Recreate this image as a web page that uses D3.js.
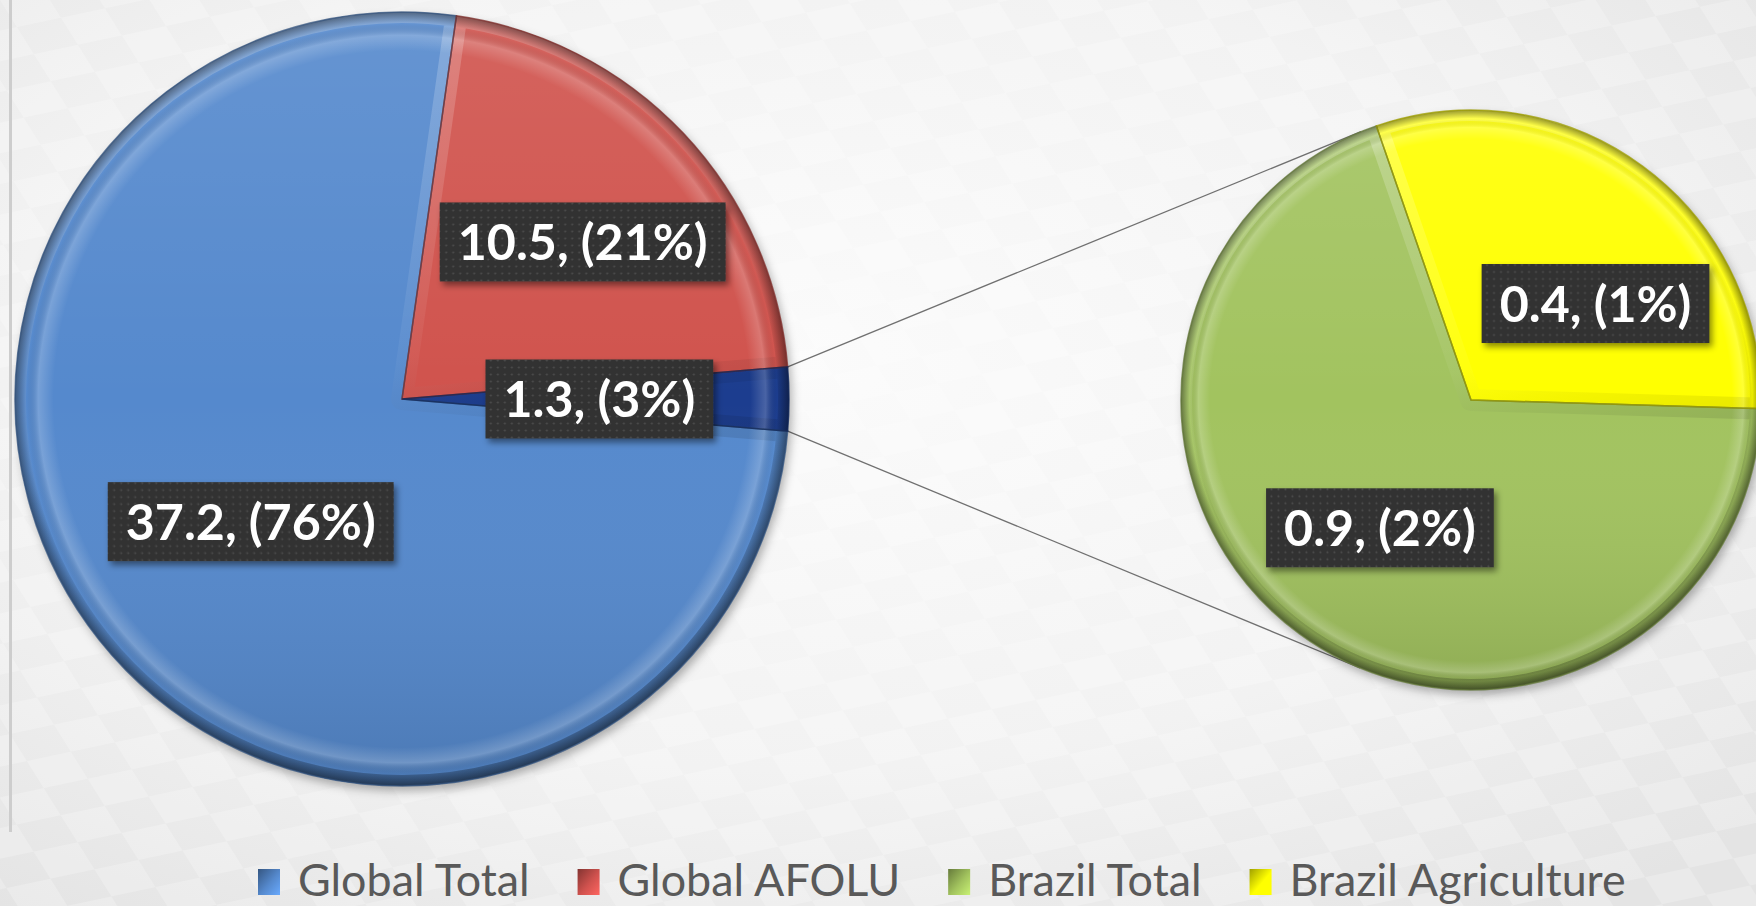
<!DOCTYPE html>
<html><head><meta charset="utf-8">
<script src="https://cdn.jsdelivr.net/npm/d3@7"></script>
<style>
html,body{margin:0;padding:0;background:#f0f0f0;overflow:hidden}
svg{display:block}
</style></head><body>
<svg id="chart" width="1756" height="906"></svg>
<script>
// ---- data ----
const primaryCategories = ["Global Total", "Global AFOLU", "Other"];
const primaryValues = [37.2, 10.5, 1.3];
const secondaryCategories = ["Brazil Total", "Brazil Agriculture"];
const secondaryValues = [0.9, 0.4];
const legendLabels = ["Global Total", "Global AFOLU", "Brazil Total", "Brazil Agriculture"];

// ---- style / layout ----
const W = 1756, H = 906;
const colorScale = d3.scaleOrdinal()
  .domain(["Global Total", "Global AFOLU", "Other", "Brazil Total", "Brazil Agriculture"])
  .range(["#5589cd", "#d0524e", "#1b3d8f", "#a2c35e", "#ffff00"]);
const P1 = {cx: 402, cy: 399, r: 387};
const P2 = {cx: 1471, cy: 400, r: 290};
const labelFont = "Lato, 'Open Sans', sans-serif";

const svg = d3.select("#chart");
const defs = svg.append("defs");

// background
const bg = defs.append("radialGradient").attr("id", "bgGrad").attr("cx", "45%").attr("cy", "40%").attr("r", "75%");
bg.append("stop").attr("offset", "0").attr("stop-color", "#fbfbfb");
bg.append("stop").attr("offset", "0.6").attr("stop-color", "#f2f2f2");
bg.append("stop").attr("offset", "1").attr("stop-color", "#e4e4e4");
svg.append("rect").attr("width", W).attr("height", H).attr("fill", "url(#bgGrad)");
const tex = defs.append("pattern").attr("id", "tex").attr("width", 90).attr("height", 60)
  .attr("patternUnits", "userSpaceOnUse").attr("patternTransform", "rotate(-12) skewX(20)");
tex.append("rect").attr("width", 45).attr("height", 30).attr("fill", "#ffffff").attr("opacity", 0.4);
tex.append("rect").attr("x", 45).attr("y", 30).attr("width", 45).attr("height", 30).attr("fill", "#ffffff").attr("opacity", 0.4);
svg.append("rect").attr("width", W).attr("height", H).attr("fill", "url(#tex)").attr("opacity", 0.55);
svg.append("rect").attr("x", 9).attr("y", 0).attr("width", 3).attr("height", 832).attr("fill", "#cdcdcd");

// filters
const fs = defs.append("filter").attr("id", "pieShadow").attr("x", "-10%").attr("y", "-10%").attr("width", "120%").attr("height", "125%");
fs.append("feDropShadow").attr("dx", 3).attr("dy", 5).attr("stdDeviation", 5).attr("flood-color", "#000").attr("flood-opacity", 0.3);
const fl = defs.append("filter").attr("id", "lblShadow").attr("x", "-10%").attr("y", "-20%").attr("width", "125%").attr("height", "150%");
fl.append("feDropShadow").attr("dx", 3).attr("dy", 4).attr("stdDeviation", 3).attr("flood-color", "#000").attr("flood-opacity", 0.45);

// dotted label pattern
const dots = defs.append("pattern").attr("id", "dots").attr("width", 7).attr("height", 7).attr("patternUnits", "userSpaceOnUse");
dots.append("rect").attr("width", 7).attr("height", 7).attr("fill", "#323232");
dots.append("circle").attr("cx", 3.5).attr("cy", 3.5).attr("r", 1).attr("fill", "#4e4e4e");

// rim (bevel) gradients
function rimGrad(id, r) {
  const g = defs.append("radialGradient").attr("id", id).attr("gradientUnits", "userSpaceOnUse")
    .attr("cx", 0).attr("cy", 0).attr("r", r);
  [[0, "#fff", 0], [0.9, "#fff", 0], [0.94, "#fff", 0.2], [0.97, "#000", 0], [1, "#000", 0.4]]
    .forEach(s => g.append("stop").attr("offset", s[0]).attr("stop-color", s[1]).attr("stop-opacity", s[2]));
  const l = defs.append("linearGradient").attr("id", id + "L").attr("gradientUnits", "userSpaceOnUse")
    .attr("x1", 0).attr("y1", -r).attr("x2", 0).attr("y2", r);
  [[0, "#fff", 0.1], [0.5, "#fff", 0], [1, "#000", 0.12]]
    .forEach(s => l.append("stop").attr("offset", s[0]).attr("stop-color", s[1]).attr("stop-opacity", s[2]));
  const b = defs.append("linearGradient").attr("id", id + "B").attr("gradientUnits", "userSpaceOnUse")
    .attr("x1", -r * 0.3).attr("y1", -r).attr("x2", r * 0.3).attr("y2", r);
  [[0, "#fff", 0.45], [0.45, "#fff", 0.08], [0.55, "#000", 0.08], [1, "#000", 0.45]]
    .forEach(s => b.append("stop").attr("offset", s[0]).attr("stop-color", s[1]).attr("stop-opacity", s[2]));
}
rimGrad("rim1", P1.r);
rimGrad("rim2", P2.r);

const total = d3.sum(primaryValues);
const otherSpan = primaryValues[2] / total * 2 * Math.PI;
const pie1 = d3.pie().sort(null).value(d => d.v)
  .startAngle(Math.PI / 2 + otherSpan / 2).endAngle(Math.PI / 2 + otherSpan / 2 + 2 * Math.PI);
const sec0 = Math.PI / 2 + 0.03;
const pie2 = d3.pie().sort(null).value(d => d.v)
  .startAngle(sec0).endAngle(sec0 + 2 * Math.PI);

const arcs1 = pie1(primaryCategories.map((c, i) => ({c, v: primaryValues[i]})));
const arcs2 = pie2(secondaryCategories.map((c, i) => ({c, v: secondaryValues[i]})));

function pt(P, a, rr) { return [P.cx + rr * Math.sin(a), P.cy - rr * Math.cos(a)]; }

// connector lines (tangent to the secondary pie)
function tangent(p, C, upper) {
  const vx = p[0] - C.cx, vy = p[1] - C.cy, d = Math.hypot(vx, vy);
  const phi = Math.atan2(vy, vx), a = Math.acos(C.r / d);
  const t1 = [C.cx + C.r * Math.cos(phi + a), C.cy + C.r * Math.sin(phi + a)];
  const t2 = [C.cx + C.r * Math.cos(phi - a), C.cy + C.r * Math.sin(phi - a)];
  return upper ? (t1[1] < t2[1] ? t1 : t2) : (t1[1] > t2[1] ? t1 : t2);
}
const otherArc = arcs1[2];
const pu = pt(P1, otherArc.startAngle, P1.r), pl = pt(P1, otherArc.endAngle, P1.r);
[[pu, tangent(pu, P2, true)], [pl, tangent(pl, P2, false)]].forEach(([a, b]) => {
  svg.append("line").attr("x1", a[0]).attr("y1", a[1]).attr("x2", b[0]).attr("y2", b[1])
    .attr("stroke", "#707070").attr("stroke-width", 1.3);
});

let clipN = 0;
function drawPie(P, arcs, rimId) {
  const g = svg.append("g").attr("transform", `translate(${P.cx},${P.cy})`);
  const arc = d3.arc().innerRadius(0).outerRadius(P.r);
  const sg = g.append("g").attr("filter", "url(#pieShadow)");
  sg.selectAll("path.base").data(arcs).join("path").attr("class", "base")
    .attr("d", arc).attr("fill", d => colorScale(d.data.c));
  g.selectAll("path.light").data(arcs).join("path").attr("class", "light")
    .attr("d", arc).attr("fill", `url(#${rimId}L)`);
  // bevel band along every edge of each slice, lit from the top
  arcs.forEach(d => {
    const id = "clip" + (clipN++);
    defs.append("clipPath").attr("id", id).append("path")
      .attr("d", arc(d)).attr("transform", `translate(${P.cx},${P.cy})`);
    svg.append("g").attr("clip-path", `url(#${id})`)
      .append("path").attr("transform", `translate(${P.cx},${P.cy})`)
      .attr("d", arc(d)).attr("fill", "none").attr("stroke", `url(#${rimId}B)`)
      .attr("stroke-width", 22).attr("stroke-linejoin", "round").attr("opacity", 0.55);
  });
  const g2 = svg.append("g").attr("transform", `translate(${P.cx},${P.cy})`);
  g2.selectAll("path.rim").data(arcs).join("path").attr("class", "rim")
    .attr("d", arc).attr("fill", `url(#${rimId})`)
    .attr("stroke", d => d3.color(colorScale(d.data.c)).darker(1.4)).attr("stroke-width", 1.5).attr("stroke-opacity", 0.75);
}
drawPie(P1, arcs1, "rim1");
drawPie(P2, arcs2, "rim2");

// labels
function labelText(v) { return `${v}, (${Math.round(v / total * 100)}%)`; }
const measure = svg.append("text").attr("font-family", labelFont).attr("font-weight", 700).attr("font-size", 100).text("10.5, (21%)");
const lblSize = 100 * 250 / measure.node().getComputedTextLength();
measure.remove();
// label placement: fraction of radius along slice bisector, plus optional nudge
const labelPlacement = {
  "Global Total": {f: 0.5, dx: 0, dy: 2},
  "Global AFOLU": {f: 0.61, dx: 9, dy: 5},
  "Other": {f: 0.51, dx: 0, dy: 0},
  "Brazil Total": {f: 0.53, dx: 0, dy: 4},
  "Brazil Agriculture": {f: 0.55, dx: 30, dy: 32}
};
function drawLabels(P, arcs) {
  arcs.forEach(d => {
    const lp = labelPlacement[d.data.c];
    const mid = (d.startAngle + d.endAngle) / 2;
    const [x, y] = pt(P, mid, P.r * lp.f);
    const g = svg.append("g").attr("transform", `translate(${x + lp.dx},${y + lp.dy})`);
    const t = g.append("text").attr("font-family", labelFont).attr("font-weight", 700)
      .attr("font-size", lblSize).attr("fill", "#fff").attr("text-anchor", "middle").attr("dy", "0.36em")
      .text(labelText(d.data.v));
    const w = t.node().getComputedTextLength() + 36, h = 79;
    g.insert("rect", "text").attr("x", -w / 2).attr("y", -h / 2).attr("width", w).attr("height", h)
      .attr("fill", "url(#dots)").attr("filter", "url(#lblShadow)");
  });
}
drawLabels(P1, arcs1);
drawLabels(P2, arcs2);

// legend
const legFont = "Lato, 'Open Sans', sans-serif";
const legSize = 45;
const lg = svg.append("g");
const tmp = lg.selectAll("text.m").data(legendLabels).join("text").attr("font-family", legFont).attr("font-size", legSize).text(d => d);
const sumW = d3.sum(tmp.nodes(), n => n.getComputedTextLength());
tmp.remove();
const sx = 1064 / sumW;
let x = 258;
const baseY = 896;
legendLabels.forEach((lab, i) => {
  const col = colorScale(lab);
  const gid = "lg" + i;
  const gr = defs.append("linearGradient").attr("id", gid).attr("x1", 0).attr("y1", 0).attr("x2", 1).attr("y2", 1);
  gr.append("stop").attr("offset", 0).attr("stop-color", d3.color(col).darker(1.3));
  gr.append("stop").attr("offset", 0.55).attr("stop-color", col);
  gr.append("stop").attr("offset", 1).attr("stop-color", d3.color(col).brighter(0.6));
  lg.append("rect").attr("x", x).attr("y", 869).attr("width", 22).attr("height", 26).attr("fill", `url(#${gid})`);
  x += 22 + 18;
  const t = lg.append("text").attr("transform", `translate(${x},${baseY}) scale(${sx},1)`).attr("font-family", legFont)
    .attr("font-size", legSize).attr("fill", "#595959").text(lab);
  x += t.node().getComputedTextLength() * sx + 48;
});
</script>
</body></html>
